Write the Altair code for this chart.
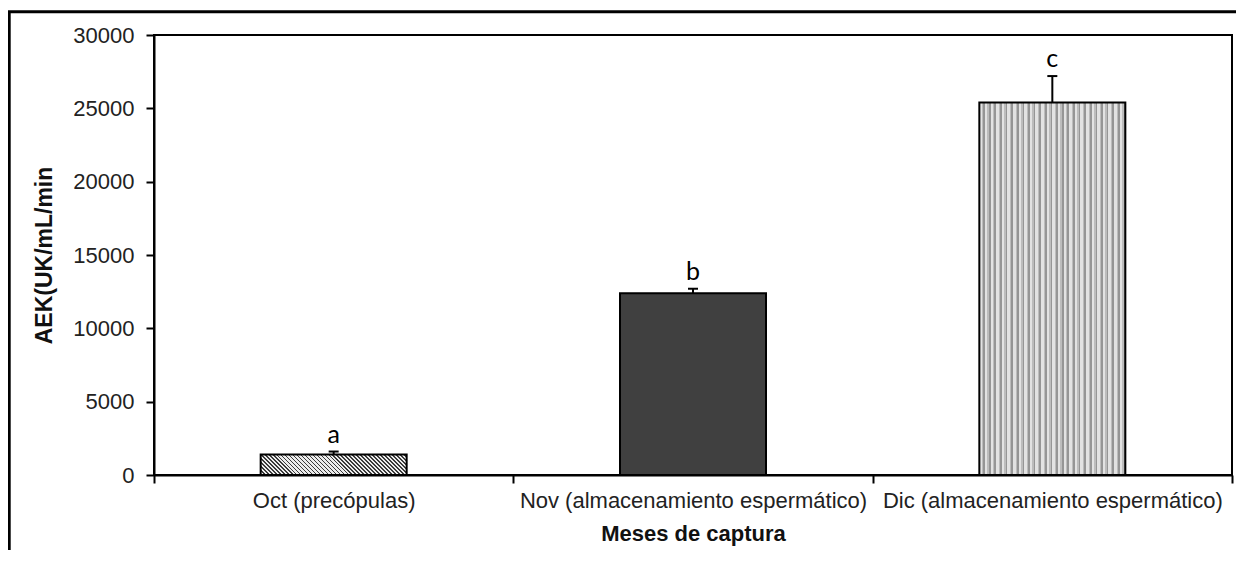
import altair as alt
import pandas as pd

categories = ["Oct (precópulas)", "Nov (almacenamiento espermático)", "Dic (almacenamiento espermático)"]
means = [1400, 12400, 25400]
errors = [200, 300, 1800]
letters = ["a", "b", "c"]
y_ticks = [0, 5000, 10000, 15000, 20000, 25000, 30000]

W, H = 1078, 440
BAR = 146
YMAX = 30000

df = pd.DataFrame({"cat": categories, "mean": means, "err": errors, "letter": letters,
                   "idx": list(range(len(categories)))})
df["top"] = df["mean"] + df["err"]


def stripes(n, pattern):
    stops = []
    total = sum(w for w, _ in pattern)
    for i in range(n):
        pos = i / n
        for w, c in pattern:
            nxt = pos + w / total / n
            stops.append({"offset": round(min(pos, 1), 5), "color": c})
            stops.append({"offset": round(min(nxt, 1), 5), "color": c})
            pos = nxt
    return stops


# diagonal hatch for Oct bar (lines running top-left to bottom-right)
oct_h = means[0] / YMAX * H
r = oct_h / BAR
oct_fill = {"gradient": "linear", "x1": 0, "y1": 1, "x2": 1.2, "y2": 1 - 1.2 * r,
            "stops": stripes(45, [(0.4, "#3a3a3a"), (0.6, "#ececec")])}
# vertical dotted stripes for Dic bar
dic_fill = {"gradient": "linear", "x1": 0, "y1": 0, "x2": 1, "y2": 0,
            "stops": stripes(26, [(0.45, "#e2e2e2"), (0.25, "#bcbcbc"), (0.3, "#959595")])}
fills = [oct_fill, "#404040", dic_fill]

FONT = "Liberation Sans"

x_enc = alt.X("cat:N", sort=categories, scale=alt.Scale(paddingInner=0, paddingOuter=0),
              axis=alt.Axis(title="Meses de captura", tickBand="extent", tickSize=8, tickWidth=2,
                            tickColor="black", domainColor="black", domainWidth=2, labelAngle=0,
                            labelFont=FONT, labelFontSize=22, labelColor="#222", labelLimit=0,
                            labelPadding=7, titleFont=FONT, titleFontSize=22,
                            titleFontWeight="bold", titleColor="#111", titlePadding=12))
y_scale = alt.Scale(domain=[0, YMAX], nice=False)
y_enc = alt.Y("mean:Q", scale=y_scale,
              axis=alt.Axis(title="AEK(UK/mL/min", values=y_ticks, format="d", grid=False,
                            tickSize=8, tickWidth=2, tickColor="black", domainColor="black",
                            domainWidth=2, labelFont=FONT, labelFontSize=22,
                            labelColor="#222", labelPadding=12, titleFont=FONT,
                            titleFontSize=23, titleFontWeight="bold", titleColor="#111",
                            titlePadding=16))

base = alt.Chart(df)

bars = [
    base.transform_filter(alt.datum.idx == i)
    .mark_bar(size=BAR, fill=fills[i], stroke="black", strokeWidth=2)
    .encode(x=x_enc, y=y_enc)
    for i in range(len(categories))
]

err_rule = base.mark_rule(color="black", strokeWidth=2).encode(
    x=alt.X("cat:N", sort=categories), y=alt.Y("mean:Q", scale=y_scale), y2="top:Q")
err_cap = base.mark_tick(color="black", size=10, thickness=2, opacity=1).encode(
    x=alt.X("cat:N", sort=categories), y=alt.Y("top:Q", scale=y_scale))
labels = base.mark_text(font="Lato", fontSize=25, color="black", baseline="middle", dy=-17).encode(
    x=alt.X("cat:N", sort=categories), y=alt.Y("top:Q", scale=y_scale), text="letter:N")

border = alt.Chart(pd.DataFrame({"b": [0]})).mark_rect(
    fill="transparent", stroke="black", strokeWidth=3).encode(
    x=alt.value(-144.8), x2=alt.value(W + 200), y=alt.value(-23.3), y2=alt.value(H + 300))

chart = alt.layer(border, *bars, err_rule, err_cap, labels).properties(
    width=W, height=H,
    autosize=alt.AutoSizeParams(type="none"),
    padding={"left": 146, "top": 27, "right": 4, "bottom": 75},
    background="white",
).configure_view(stroke="black", strokeWidth=2)

chart.save("out.html", embed_options={"renderer": "svg", "actions": False})
